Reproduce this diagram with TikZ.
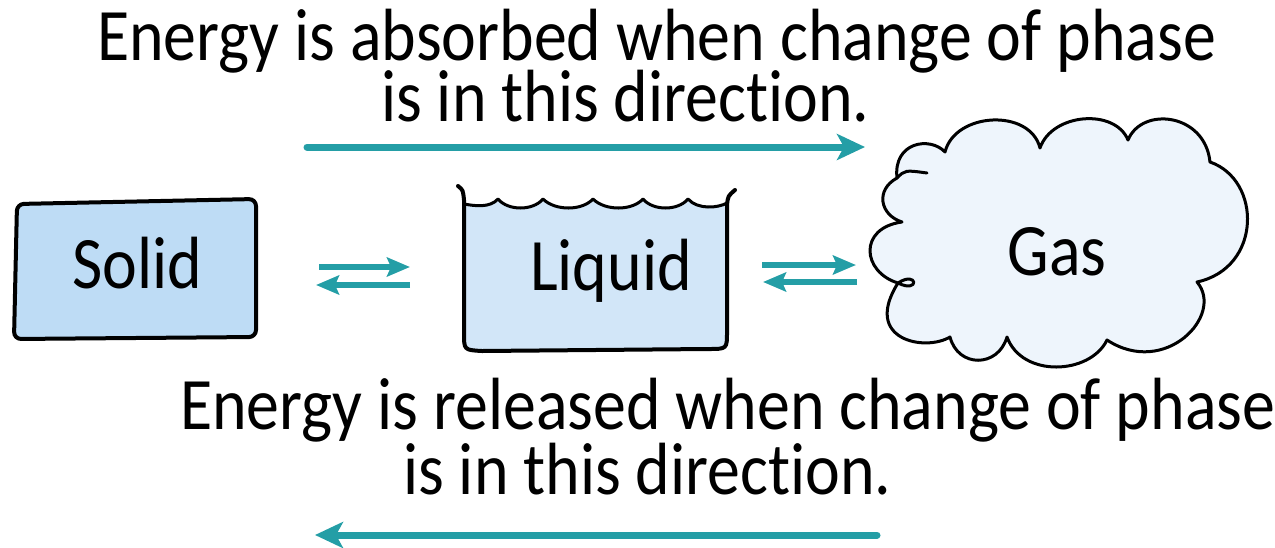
\documentclass[tikz,border=0pt]{standalone}
\usepackage{fontspec}
\setmainfont{Carlito}[Ligatures=NoCommon, FakeStretch=0.89]
\usetikzlibrary{arrows.meta}
\definecolor{arrowteal}{RGB}{36,158,166}
\definecolor{solidfill}{RGB}{190,220,245}
\definecolor{liquidfill}{RGB}{210,230,248}
\definecolor{gasfill}{RGB}{238,245,252}
\tikzset{
  outline/.style={draw=black, line width=4pt, line join=round, line cap=round},
  thinoutline/.style={draw=black, line width=3pt, line join=round, line cap=round},
  label/.style={anchor=base west, inner sep=0pt, text height=48pt, text depth=6pt, font=\fontsize{74}{80}\selectfont},
  phase/.style={anchor=base, inner sep=0pt, font=\fontsize{74}{80}\selectfont},
  bigarrow/.style={draw=arrowteal, line width=7pt, line cap=round, -{Stealth[length=28pt,width=26pt,inset=7pt]}},
  eqarrow/.style={draw=arrowteal, line width=6pt, -{Stealth[length=23pt,width=19pt,inset=4pt]}}
}
\begin{document}
\begin{tikzpicture}[x=1pt,y=-1pt]
\useasboundingbox (0,0) rectangle (1275,547);

% texts
\node[label] (t1) at (97,60) {Energy is absorbed when change of phase};
\node[label] (t2) at (381,121) {is in this direction.};
\node[label] (b1) at (180,429) {Energy is released when change of phase};
\node[label] (b2) at (403,494) {is in this direction.};

% solid box
\path[fill=solidfill, outline, rounded corners=7pt] (17,204) -- (256,199) -- (256,337) -- (14,339) -- cycle;
\node[phase] (solid) at (137,288) {Solid};

% liquid container
\fill[liquidfill] (464,204) .. controls (475,206) and (490,208) .. (498,199)
  .. controls (508,211) and (533,211) .. (543,199)
  .. controls (555,211) and (582,211) .. (593,199)
  .. controls (605,211) and (632,211) .. (643,199)
  .. controls (653,211) and (678,211) .. (688,199)
  .. controls (698,210) and (718,208) .. (727,203)
  -- (727,332) .. controls (727,349) .. (708,349) -- (482,351) .. controls (464,350) .. (464,333) -- cycle;
\draw[thinoutline] (464,204) .. controls (475,206) and (490,208) .. (498,199)
  .. controls (508,211) and (533,211) .. (543,199)
  .. controls (555,211) and (582,211) .. (593,199)
  .. controls (605,211) and (632,211) .. (643,199)
  .. controls (653,211) and (678,211) .. (688,199)
  .. controls (698,210) and (718,208) .. (727,203);
\draw[outline] (458,186) .. controls (463,190) .. (464,200) -- (464,333) .. controls (464,350) .. (482,351)
  -- (708,349) .. controls (727,349) .. (727,332) -- (727,205) .. controls (728,196) .. (735,190);
\node[phase] (liquid) at (611,290) {Liquid};

% gas cloud
\path[fill=gasfill, thinoutline] (897,178) .. controls (893,142) and (930,136) .. (945,152)
  .. controls (955,112) and (1030,108) .. (1040,148)
  .. controls (1052,113) and (1115,108) .. (1128,140)
  .. controls (1142,106) and (1205,113) .. (1210,162)
  .. controls (1262,180) and (1262,268) .. (1197,282)
  .. controls (1225,315) and (1165,378) .. (1107,340)
  .. controls (1090,375) and (1022,378) .. (1007,337)
  .. controls (998,368) and (958,368) .. (950,337)
  .. controls (925,352) and (862,340) .. (898,283)
  .. controls (918,270) and (920,294) .. (898,283)
  .. controls (862,272) and (858,228) .. (902,222)
  .. controls (880,215) and (875,190) .. (897,178) -- cycle;
\draw[thinoutline] (897,178) .. controls (905,170) .. (927,173);
\node[phase] (gas) at (1057,275) {Gas};

% arrows
\coordinate (abs0) at (307,147);
\coordinate (abs1) at (865,147);
\coordinate (rel0) at (877,535);
\coordinate (rel1) at (315,535);
\draw[bigarrow] (abs0) -- (abs1);
\draw[bigarrow] (rel0) -- (rel1);

\coordinate (sl0) at (319,267);
\coordinate (sl1) at (410,267);
\coordinate (ls0) at (410,285);
\coordinate (ls1) at (316,285);
\coordinate (lg0) at (762,265);
\coordinate (lg1) at (856,265);
\coordinate (gl0) at (857,282);
\coordinate (gl1) at (763,282);
\draw[eqarrow] (sl0) -- (sl1);
\draw[eqarrow] (ls0) -- (ls1);
\draw[eqarrow] (lg0) -- (lg1);
\draw[eqarrow] (gl0) -- (gl1);
\end{tikzpicture}
\end{document}
